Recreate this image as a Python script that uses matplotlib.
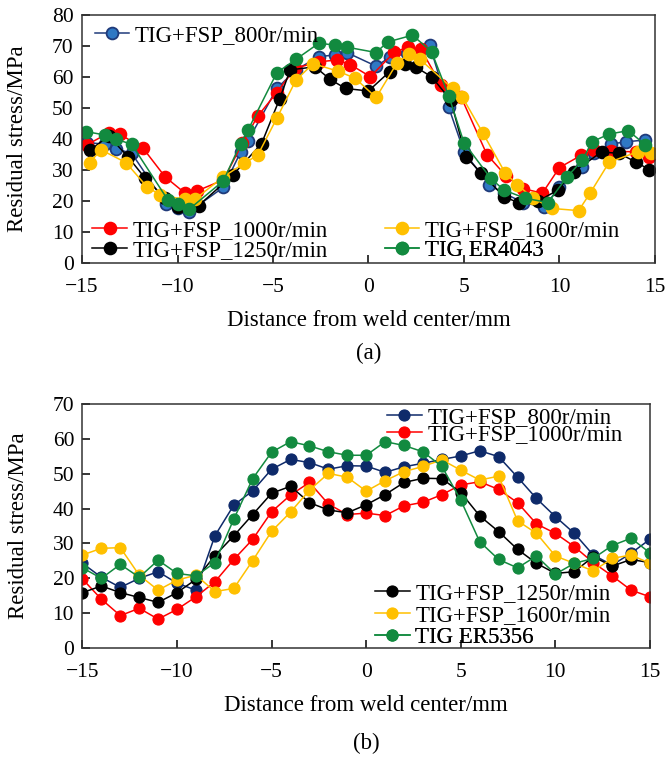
import numpy as np
import matplotlib

matplotlib.use("Agg")
import matplotlib.pyplot as plt

plt.rcParams["font.family"] = ["Liberation Serif", "DejaVu Serif"]
plt.rcParams["axes.unicode_minus"] = True

# ---- (a) ER4043 filler: measured positions differ slightly per series ----
a_x_800 = [-14.75, -13.8, -13.2, -12.4, -10.6, -10.0, -9.4, -7.6, -6.7, -6.3, -4.8,
           -3.8, -2.6, -1.75, -1.1, 0.4, 1.1, 2.0, 3.2, 4.2, 5.0, 6.3, 7.1, 8.1, 9.2,
           10.0, 11.2, 11.8, 12.7, 13.5, 14.5]
a_y_800 = [38.8, 38.4, 36.8, 35.4, 19.0, 17.6, 16.5, 24.4, 35.7, 39.5, 56.3, 62.3,
           66.6, 67.1, 67.8, 63.5, 66.3, 67.6, 70.3, 50.2, 35.9, 25.2, 22.5, 19.5,
           18.0, 24.6, 31.1, 35.4, 38.4, 39.1, 39.7]

a_x_1000 = [-14.75, -13.6, -13.0, -11.8, -10.65, -9.6, -9.0, -7.6, -6.6, -5.8, -4.8,
            -3.85, -2.6, -1.65, -0.95, 0.1, 1.35, 2.05, 2.75, 3.8, 4.85, 6.2, 7.2,
            8.1, 9.1, 10.0, 11.15, 11.8, 12.7, 14.0, 14.7]
a_y_1000 = [38.1, 42.0, 41.5, 37.0, 27.8, 22.5, 23.2, 26.8, 38.6, 47.4, 55.0, 62.8,
            64.9, 65.5, 64.0, 60.1, 68.0, 69.6, 68.9, 57.5, 53.5, 35.0, 28.1, 24.0,
            22.5, 30.8, 34.8, 36.4, 36.0, 35.9, 34.3]

a_x_1250 = [-14.6, -13.6, -12.6, -11.7, -10.65, -10.0, -8.9, -7.1, -5.6, -4.65, -4.1,
            -2.8, -2.0, -1.2, 0.0, 1.1, 1.9, 2.5, 3.3, 4.3, 5.1, 5.9, 7.1, 7.9, 8.9,
            9.9, 10.75, 12.2, 13.1, 14.0, 14.7]
a_y_1250 = [36.3, 41.0, 34.3, 27.4, 20.9, 18.2, 18.5, 28.4, 38.5, 53.0, 62.3, 63.3,
            59.2, 56.3, 55.5, 61.7, 64.2, 63.1, 60.1, 52.6, 34.3, 29.0, 21.4, 19.3,
            20.0, 23.5, 29.5, 35.8, 35.4, 32.6, 30.1]

a_x_1600 = [-14.6, -14.0, -12.7, -11.6, -10.9, -9.6, -9.1, -7.6, -6.5, -5.8, -4.8,
            -3.8, -2.9, -1.6, -0.7, 0.4, 1.5, 2.1, 2.7, 4.4, 4.9, 6.0, 7.15, 7.8, 8.6,
            9.6, 11.0, 11.6, 12.6, 14.1, 14.8]
a_y_1600 = [32.4, 36.5, 32.4, 24.6, 21.9, 20.5, 20.5, 27.8, 32.2, 34.8, 46.7, 59.0,
            64.3, 61.9, 59.6, 53.4, 64.6, 67.3, 65.7, 56.3, 53.7, 41.8, 29.1, 25.2,
            21.0, 17.6, 16.9, 22.5, 32.5, 35.9, 35.4]

a_x_tig = [-14.8, -13.8, -13.2, -12.4, -10.5, -10.0, -9.4, -7.6, -6.7, -6.3, -4.8,
           -3.8, -2.6, -1.75, -1.1, 0.4, 1.0, 2.3, 3.3, 4.2, 5.0, 6.4, 7.1, 8.2, 9.4,
           10.4, 11.2, 11.7, 12.6, 13.6, 14.5]
a_y_tig = [42.4, 41.3, 39.9, 38.3, 20.3, 19.0, 17.3, 26.5, 38.5, 43.0, 61.4, 65.7,
           70.9, 70.3, 69.6, 67.9, 71.3, 73.5, 68.2, 53.9, 38.8, 27.3, 23.5, 20.9,
           19.5, 27.8, 33.2, 39.1, 41.6, 42.7, 38.1]

# ---- (b) ER5356 filler: 1 mm step from -15 to 15 mm ----
b_x = list(range(-15, 16))
b_y_800 = [24.3, 20.3, 17.4, 20.0, 21.9, 18.6, 16.6, 32.2, 41.0, 45.1, 51.3, 54.1,
           53.2, 51.3, 52.3, 52.2, 50.4, 52.0, 53.0, 54.1, 55.1, 56.6, 54.9, 49.0,
           42.9, 37.7, 32.9, 26.7, 23.8, 27.2, 31.2]
b_y_1000 = [19.8, 14.0, 9.3, 11.4, 8.3, 11.1, 14.7, 19.0, 25.4, 31.2, 39.1, 43.9,
            47.5, 41.3, 38.3, 38.7, 38.0, 40.8, 41.8, 44.0, 46.8, 47.7, 45.5, 41.7,
            35.6, 32.9, 29.1, 24.5, 20.7, 16.6, 14.7]
b_y_1250 = [15.9, 17.8, 15.9, 14.5, 13.1, 15.9, 19.7, 26.5, 32.2, 38.3, 44.4, 46.4,
            41.7, 39.6, 38.8, 41.1, 44.0, 47.5, 48.7, 48.6, 44.6, 37.9, 33.4, 28.3,
            24.3, 21.4, 21.9, 26.2, 23.5, 25.4, 24.5]
b_y_1600 = [26.7, 28.6, 28.8, 20.9, 16.6, 19.5, 20.9, 16.2, 17.1, 25.1, 33.5, 39.0,
            45.3, 50.1, 49.0, 45.0, 48.0, 50.6, 52.1, 54.0, 51.0, 48.2, 49.3, 36.5,
            32.9, 26.4, 24.3, 22.1, 25.7, 26.7, 24.3]
b_y_tig = [23.0, 20.0, 24.0, 20.3, 25.2, 21.4, 20.7, 24.5, 37.0, 48.6, 56.2, 59.2,
           58.0, 56.3, 55.3, 55.3, 59.2, 58.1, 56.3, 52.1, 42.4, 30.5, 25.4, 23.0,
           26.4, 21.2, 24.3, 25.7, 29.4, 31.5, 27.3]

labels = ["TIG+FSP_800r/min", "TIG+FSP_1000r/min", "TIG+FSP_1250r/min",
          "TIG+FSP_1600r/min"]

RED, YEL, GRN = "#FF0000", "#FFC000", "#128A3F"
NAVY = "#1F3A7A"

# (line colour, marker face, marker edge)
styles_a = [(NAVY, "#2F78C4", NAVY), (RED, RED, RED), ("black", "black", "black"),
            (YEL, YEL, YEL), (GRN, GRN, GRN)]
styles_b = [("#0E2A6A", "#0E2A6A", "#0E2A6A"), (RED, RED, RED),
            ("black", "black", "black"), (YEL, YEL, YEL), (GRN, GRN, GRN)]

fig = plt.figure(figsize=(6.7, 7.59), dpi=100)
ax1 = fig.add_axes([0.1224, 0.6535, 0.8552, 0.3267])
ax2 = fig.add_axes([0.1231, 0.1462, 0.8470, 0.3215])

FS = 16.5


def draw(ax, xs, ys, styles, ms, mew):
    handles = []
    for x, y, (lc, fc, ec) in zip(xs, ys, styles):
        h, = ax.plot(x, y, "-o", color=lc, mfc=fc, mec=ec, ms=ms, mew=mew, lw=1.1)
        handles.append(h)
    return handles


def entry(ax, h, text, x, y):
    leg = ax.legend([h], [text], loc="center left", bbox_to_anchor=(x, y),
                    frameon=False, borderpad=0, borderaxespad=0, handlelength=1.5,
                    handletextpad=0.25, fontsize=FS)
    ax.add_artist(leg)


ha = draw(ax1, [a_x_800, a_x_1000, a_x_1250, a_x_1600, a_x_tig],
          [a_y_800, a_y_1000, a_y_1250, a_y_1600, a_y_tig], styles_a, 8.5, 1.3)
hb = draw(ax2, [b_x] * 5, [b_y_800, b_y_1000, b_y_1250, b_y_1600, b_y_tig],
          styles_b, 8.0, 0.8)

for ax, top in ((ax1, 80), (ax2, 70)):
    ax.set_xlim(-15, 15)
    ax.set_ylim(0, top)
    ax.set_xticks(np.arange(-15, 16, 5))
    ax.set_yticks(np.arange(0, top + 1, 10))
    ax.tick_params(direction="in", length=6, width=1.1, labelsize=FS - 1,
                   top=False, right=False)
    ax.tick_params(axis="x", pad=11)
    ax.tick_params(axis="y", pad=6)
    for s in ax.spines.values():
        s.set_linewidth(1.1)
        s.set_color("#333333")
    ax.set_xlabel("Distance from weld center/mm", fontsize=FS, labelpad=9)
    ax.set_ylabel("Residual stress/MPa", fontsize=FS)
    ax.yaxis.set_label_coords(-0.094, 0.5)

entry(ax1, ha[0], labels[0], 0.022, 0.918)
entry(ax1, ha[1], labels[1], 0.018, 0.130)
entry(ax1, ha[2], labels[2], 0.018, 0.050)
entry(ax1, ha[3], labels[3], 0.528, 0.130)
entry(ax1, ha[4], "TIG ER4043", 0.528, 0.050)

entry(ax2, hb[0], labels[0], 0.537, 0.945)
entry(ax2, hb[1], labels[1], 0.537, 0.875)
entry(ax2, hb[2], labels[2], 0.516, 0.222)
entry(ax2, hb[3], labels[3], 0.516, 0.135)
entry(ax2, hb[4], "TIG ER5356", 0.516, 0.045)

fig.text(0.551, 1 - 353 / 759, "(a)", ha="center", va="center", fontsize=FS)
fig.text(0.547, 1 - 743 / 759, "(b)", ha="center", va="center", fontsize=FS)

fig.savefig("out.png", dpi=100)
